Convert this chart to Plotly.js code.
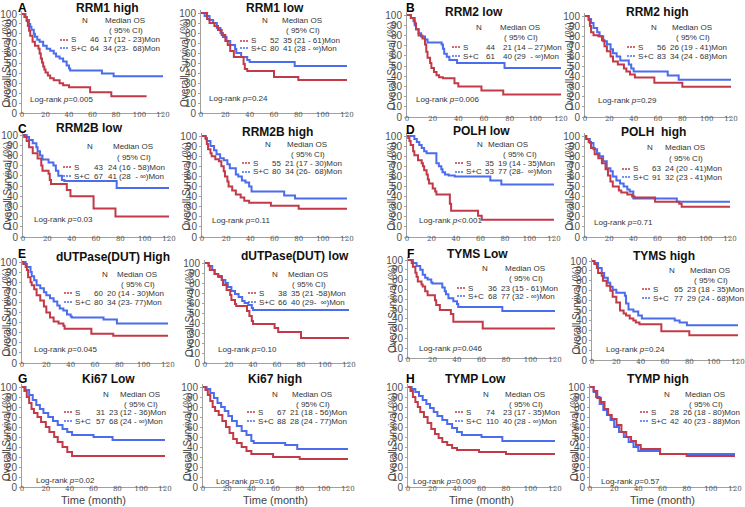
<!DOCTYPE html>
<html><head><meta charset="utf-8">
<script src="https://cdn.plot.ly/plotly-3.0.1.min.js"></script>
<style>html,body{margin:0;padding:0;background:#fff}#chart{width:745px;height:507px}</style>
</head><body><div id="chart"></div>
<script>
// ---------------- DATA ----------------
const titles = ["RRM1 high","RRM1 low","RRM2 low","RRM2 high","RRM2B low","RRM2B high","POLH low","POLH  high",
  "dUTPase(DUT) High","dUTPase(DUT) low","TYMS Low","TYMS high","Ki67 Low","Ki67 high","TYMP Low","TYMP high"];
const nS  = [46,52,44,56,43,55,35,63,60,38,36,65,31,67,74,28];
const nSC = [64,80,61,83,67,80,53,91,80,66,68,77,57,88,110,42];
const medS  = ["17 (12 - 23)Mon","35 (21 - 61)Mon","21 (14 – 27)Mon","26 (19 - 41)Mon","24 (16 - 58)Mon","21 (17 - 30)Mon",
  "19 (14 - 35)Mon","24 (20 - 41)Mon","20 (14 - 30)Mon","35 (21 -58)Mon","23 (15 - 61)Mon","23 (18 - 35)Mon",
  "23 (12 - 36)Mon","21 (18 - 56)Mon","23 (17 - 35)Mon","26 (18 - 80)Mon"];
const medSC = ["34 (23-  68)Mon","41 (28 - ∞)Mon","40 (29  - ∞)Mon","34 (24 - 68)Mon","41 (28  - ∞)Mon","34 (26-  68)Mon",
  "77 (28-  ∞)Mon","32 (23 - 41)Mon","34 (23- 77)Mon","40 (29-  ∞)Mon","77 (32 - ∞)Mon","29 (24 - 68)Mon",
  "68 (24 - ∞)Mon","28 (24 - 77)Mon","40 (28 - ∞)Mon","40 (23 - 88)Mon"];
const pVals = ["=0.005","=0.24","=0.006","=0.29","=0.03","=0.11","<0.001","=0.71","=0.045","=0.10","=0.046","=0.24","=0.02","=0.16","=0.009","=0.57"];
const letters = {0:"A",2:"B",4:"C",6:"D",8:"E",10:"F",12:"G",14:"H"};
const xTicks = [0,20,40,60,80,100,120];
const yTicks = [0,10,20,30,40,50,60,70,80,90,100];

// Survival curves (time in months, survival %)
const rrm1High_S_t  = [0,2,4,5,6,7,9,11,14,15,16,17,18,19,20,22,24,27,32,35,40,58,76,106];
const rrm1High_S_p  = [100,97,93,88,83,78,72,68,65,60,55,51,47,44,41,38,35,33,30,28,26,21,17,17];
const rrm1High_SC_t = [0,3,4,6,7,8,10,11,13,15,18,21,24,27,29,32,35,38,40,41,68,78,120];
const rrm1High_SC_p = [100,97,94,90,87,84,80,77,74,72,68,65,63,60,57,55,52,48,45,43,40,37,37];

const rrm1Low_S_t  = [0,5,7,11,14,17,20,22,24,27,35,36,38,60,80,120];
const rrm1Low_S_p  = [100,94,90,87,83,78,72,68,62,56,49,44,42,36,33,33];
const rrm1Low_SC_t = [0,3,7,10,13,16,18,21,24,28,29,33,38,40,77,120];
const rrm1Low_SC_p = [100,97,93,90,85,80,76,72,68,64,60,56,53,51,47,47];

const rrm2Low_S_t  = [0,3,6,7,9,12,14,15,16,18,19,21,23,25,28,37,40,58,75,120];
const rrm2Low_S_p  = [100,97,92,86,80,77,71,64,58,53,48,44,41,39,38,33,30,26,22,22];
const rrm2Low_SC_t = [0,3,5,6,7,9,11,14,16,27,28,29,31,33,39,76,120];
const rrm2Low_SC_p = [100,97,94,90,86,82,79,76,73,71,67,62,59,56,53,48,48];

const rrm2High_S_t  = [0,3,4,5,7,11,14,16,18,21,23,27,32,34,37,41,57,80,120];
const rrm2High_S_p  = [100,96,90,84,81,80,76,70,65,60,55,52,48,45,42,39,34,30,30];
const rrm2High_SC_t = [0,3,5,7,10,12,15,18,21,23,26,29,36,38,40,68,77,120];
const rrm2High_SC_p = [100,97,93,88,84,80,75,72,67,63,60,56,52,48,45,41,37,37];

const rrm2bLow_S_t  = [0,1,3,5,8,12,15,16,21,22,23,36,39,58,76,120];
const rrm2bLow_S_p  = [100,98,94,88,82,77,70,65,62,56,52,46,40,28,20,20];
const rrm2bLow_SC_t = [0,3,5,8,11,12,14,16,21,25,27,29,32,34,77,120];
const rrm2bLow_SC_p = [100,98,95,92,88,84,80,76,73,70,65,60,56,55,48,48];

const rrm2bHigh_S_t  = [0,3,4,5,7,8,11,14,16,18,19,21,22,25,28,32,35,39,57,80,120];
const rrm2bHigh_S_p  = [100,97,92,87,83,80,77,75,70,65,60,55,50,46,42,39,36,34,31,28,28];
const rrm2bHigh_SC_t = [0,3,4,7,10,12,15,18,21,23,28,30,33,36,39,41,68,77,120];
const rrm2bHigh_SC_p = [100,98,95,90,86,82,78,76,72,68,62,60,56,54,50,45,41,38,38];

const polhLow_S_t  = [0,1,2,3,5,6,9,12,13,14,16,17,18,21,23,24,35,36,58,61,120];
const polhLow_S_p  = [100,98,95,91,85,81,76,73,70,66,62,57,53,48,45,42,33,26,21,17,17];
const polhLow_SC_t = [0,6,8,10,12,14,16,24,26,28,29,31,34,39,68,77,120];
const polhLow_SC_p = [100,97,94,91,88,85,83,73,70,67,64,62,61,60,56,52,52];

const polhHigh_S_t  = [0,1,3,5,8,11,14,17,19,21,23,28,30,35,39,41,58,78,80,120];
const polhHigh_S_p  = [100,97,94,88,82,78,73,67,61,55,50,46,44,42,40,39,35,33,30,30];
const polhHigh_SC_t = [0,1,4,7,10,12,15,18,21,23,26,29,32,35,37,40,76,120];
const polhHigh_SC_p = [100,97,93,87,83,80,75,68,65,60,56,53,50,47,45,38,35,35];

const dutHigh_S_t  = [0,1,3,4,5,7,8,10,12,15,18,20,23,26,30,34,35,57,75,120];
const dutHigh_S_p  = [100,98,95,92,85,80,77,73,67,62,56,50,45,41,39,37,34,29,27,27];
const dutHigh_SC_t = [0,3,4,7,8,10,12,15,18,20,23,26,29,31,34,37,40,41,67,78,120];
const dutHigh_SC_p = [100,98,95,90,86,82,77,74,70,67,64,61,57,54,52,48,46,45,43,39,39];

const dutLow_S_t  = [0,3,4,8,11,14,15,18,21,22,25,26,35,37,39,40,58,61,80,120];
const dutLow_S_p  = [100,97,93,89,87,83,78,73,68,63,59,57,52,47,42,39,35,31,25,25];
const dutLow_SC_t = [0,3,6,8,11,14,17,19,22,25,28,31,33,36,39,40,120];
const dutLow_SC_p = [100,97,93,89,86,83,80,76,72,69,66,62,60,58,55,53,53];

const tymsLow_S_t  = [0,3,4,6,7,8,11,12,14,16,22,23,26,35,37,61,120];
const tymsLow_S_p  = [100,97,93,87,83,78,75,73,68,64,59,54,49,45,37,30,30];
const tymsLow_SC_t = [0,4,7,10,12,14,16,19,20,28,30,31,33,37,40,41,77,120];
const tymsLow_SC_p = [100,97,94,90,85,82,80,77,76,72,68,65,61,58,55,52,48,48];

const tymsHigh_S_t  = [0,2,4,5,8,9,12,15,17,20,23,26,28,31,34,36,39,57,80,120];
const tymsHigh_S_p  = [100,97,93,88,85,80,75,70,64,58,50,47,45,42,40,38,36,29,25,25];
const tymsHigh_SC_t = [0,2,5,8,10,13,15,17,20,27,28,30,34,38,41,68,72,78,120];
const tymsHigh_SC_p = [100,98,93,88,83,78,74,71,68,65,57,51,49,45,42,40,38,35,35];

const ki67Low_S_t  = [0,2,4,6,8,10,13,16,20,23,27,30,34,38,42,120];
const ki67Low_S_p  = [100,96,90,84,78,74,70,65,60,55,50,45,40,35,31,31];
const ki67Low_SC_t = [0,3,6,9,12,15,18,22,26,30,34,38,42,60,76,120];
const ki67Low_SC_p = [100,97,92,87,82,78,74,70,66,62,58,55,52,50,47,47];

const ki67High_S_t  = [0,2,4,6,8,10,13,16,19,22,25,28,32,36,40,58,80,120];
const ki67High_S_p  = [100,97,92,86,80,76,72,66,60,54,48,44,40,36,33,30,28,28];
const ki67High_SC_t = [0,3,6,9,12,15,18,21,24,28,32,36,40,42,68,78,120];
const ki67High_SC_p = [100,98,94,89,84,80,76,71,66,61,56,52,46,44,42,38,38];

const tympLow_S_t  = [0,2,4,6,8,10,13,16,19,22,25,28,32,36,40,58,80,120];
const tympLow_S_p  = [100,96,90,85,80,75,70,64,58,53,49,45,42,39,37,35,33,33];
const tympLow_SC_t = [0,3,6,9,12,15,18,21,24,28,32,36,40,44,60,77,120];
const tympLow_SC_p = [100,98,95,91,87,83,79,75,71,67,63,59,55,52,50,46,46];

const tympHigh_S_t  = [0,3,6,9,12,15,18,22,26,30,34,38,42,58,80,120];
const tympHigh_S_p  = [100,96,89,85,78,72,68,62,55,50,46,42,38,33,31,31];
const tympHigh_SC_t = [0,3,5,8,11,14,17,20,24,28,32,36,40,58,120];
const tympHigh_SC_p = [100,95,90,83,77,72,67,60,55,50,45,40,36,33,33];

const curves = [
  [rrm1High_S_t,rrm1High_S_p,rrm1High_SC_t,rrm1High_SC_p],
  [rrm1Low_S_t,rrm1Low_S_p,rrm1Low_SC_t,rrm1Low_SC_p],
  [rrm2Low_S_t,rrm2Low_S_p,rrm2Low_SC_t,rrm2Low_SC_p],
  [rrm2High_S_t,rrm2High_S_p,rrm2High_SC_t,rrm2High_SC_p],
  [rrm2bLow_S_t,rrm2bLow_S_p,rrm2bLow_SC_t,rrm2bLow_SC_p],
  [rrm2bHigh_S_t,rrm2bHigh_S_p,rrm2bHigh_SC_t,rrm2bHigh_SC_p],
  [polhLow_S_t,polhLow_S_p,polhLow_SC_t,polhLow_SC_p],
  [polhHigh_S_t,polhHigh_S_p,polhHigh_SC_t,polhHigh_SC_p],
  [dutHigh_S_t,dutHigh_S_p,dutHigh_SC_t,dutHigh_SC_p],
  [dutLow_S_t,dutLow_S_p,dutLow_SC_t,dutLow_SC_p],
  [tymsLow_S_t,tymsLow_S_p,tymsLow_SC_t,tymsLow_SC_p],
  [tymsHigh_S_t,tymsHigh_S_p,tymsHigh_SC_t,tymsHigh_SC_p],
  [ki67Low_S_t,ki67Low_S_p,ki67Low_SC_t,ki67Low_SC_p],
  [ki67High_S_t,ki67High_S_p,ki67High_SC_t,ki67High_SC_p],
  [tympLow_S_t,tympLow_S_p,tympLow_SC_t,tympLow_SC_p],
  [tympHigh_S_t,tympHigh_S_p,tympHigh_SC_t,tympHigh_SC_p]
];

// ---------------- LAYOUT GEOMETRY (pixels) ----------------
const W = 745, H = 507;
// [x of t=0, x of t=120, y of 100%, y of 0%]
const GEOM = [
  [22,163,14,113],[201,347,13,113],[407,561,15,117],[585,731,16,117],
  [23,169,135,237],[202,347,136,237],[407,554,136,237],[585,730,136,237],
  [22,168,262,363],[205,349,263,363],[408,555,260,358],[592,738,261,360],
  [22,165,387,487],[203,348,387,487],[408,555,387,487],[590,735,387,487]
];
// legend: [lineX, headerY, N-hdr off, Median-hdr off, N-val left off, median off, red dy, blue dy, CI off]
const LEG = [
  [60,21,25,65,27,42,19,27],[240,21,25,62,28,42,20,27],[452,27,27,68,33,50,20,29],[627,28,27,65,25,39,19,28],
  [63,147,27,70,30,44,20,29],[242,144,26,65,28,42,19,28],[455,144,25,53,26,37,19,28,65],[622,148,28,63,28,40,21,29],
  [64,274,41,73,26,32,19,28],[248,274,27,60,27,42,19,28],[457,268,28,68,30,41,20,28],[642,270,30,68,31,40,19,28],
  [64,394,42,76,31,42,18,27],[247,394,28,65,28,42,18,27],[455,394,31,70,30,44,18,27],[640,394,27,65,27,40,18,27]
];
const LR = [[29,99],[208,98],[415,99],[597,100],[33,219],[211,220],[418,220],[593,222],
  [33,349],[217,349],[418,348],[605,349],[35,480],[215,481],[412,481],[600,481]];
const TP = [[107,8],[275,8],[474,12],[657,12],[89,128],[277,132],[481,131],[653,132],
  [113,257],[295,256],[477,254],[664,256],[108,379],[275,379],[475,379],[658,379]];
const LETTERPOS = {0:[22,8],2:[410,8],4:[22,129],6:[411,130],8:[22,254],10:[410,254],12:[22,379],14:[411,379]};

// fonts: detect a narrow sans for the small legend texts
const cv = document.createElement('canvas').getContext('2d');
function tw(s, size, fam) { cv.font = size + 'px ' + fam; return cv.measureText(s).width; }
const NARROW_STACK = '"Liberation Sans Narrow", "Arial Narrow", "Liberation Sans", Arial, sans-serif';
const REG_STACK = '"Liberation Sans", Arial, sans-serif';
const narrowOK = tw('Median OS 0123', 10, NARROW_STACK) < 0.9 * tw('Median OS 0123', 10, REG_STACK);
const SMALL = narrowOK ? NARROW_STACK : REG_STACK;
const SSIZE = narrowOK ? 9 : 8;

const FONT = REG_STACK;
const SERIF = '"DejaVu Serif", "Liberation Serif", serif';
const RED = '#c23a48', BLUE = '#4a6ced';
const TXT = '#333333';

const PX = x => x / W, PY = y => 1 - y / H;
const data = [];
const layout = {width:W, height:H, margin:{l:0,r:0,t:0,b:0}, showlegend:false,
  paper_bgcolor:'#ffffff', plot_bgcolor:'rgba(0,0,0,0)', annotations:[], shapes:[]};

function txt(x, y, text, o) {
  layout.annotations.push(Object.assign({xref:'paper', yref:'paper', x:PX(x), y:PY(y), text:text,
    showarrow:false, xanchor:'left', yanchor:'middle', borderpad:0, font:{family:SMALL, size:SSIZE, color:TXT}}, o || {}));
}

GEOM.forEach((g, i) => {
  const k = i === 0 ? '' : String(i + 1);
  const [x0, x1, yt, yb] = g;
  const per = (yb - yt) / 100;
  const top = yt - 3 * per;
  layout['xaxis' + k] = {domain:[PX(x0), PX(x1)], range:[0,120], anchor:'y' + k, showline:true, linecolor:'#a0a0a0',
    linewidth:1, ticks:'', tickvals:xTicks, showgrid:false, zeroline:false,
    ticklabelstandoff:-5, tickfont:{family:SERIF, size:7, color:'#555'}, fixedrange:true};
  layout['yaxis' + k] = {domain:[PY(yb), PY(top)], range:[0,103], anchor:'x' + k, showline:true, linecolor:'#a0a0a0',
    linewidth:1, ticks:'outside', ticklen:2, tickcolor:'#a0a0a0', tickvals:yTicks, showgrid:false, zeroline:false,
    tickfont:{family:FONT, size:10, color:'#505050'}, fixedrange:true};
  const c = curves[i];
  data.push({x:c[2], y:c[3], xaxis:'x' + k, yaxis:'y' + k, mode:'lines', line:{shape:'hv', color:BLUE, width:2}, hoverinfo:'skip'});
  data.push({x:c[0], y:c[1], xaxis:'x' + k, yaxis:'y' + k, mode:'lines', line:{shape:'hv', color:RED, width:2}, hoverinfo:'skip'});

  // title
  txt(TP[i][0], TP[i][1], titles[i], {xanchor:'center', font:{family:FONT, size:12, color:'#111', weight:'bold'}});
  // y axis title
  txt(x0 - 16, (yt + yb) / 2, 'Overall Survival (%)', {xanchor:'center', textangle:-90, font:{family:FONT, size:10, color:'#444'}});
  // legend block
  const L = LEG[i];
  const lx = L[0], hy = L[1];
  const ciOff = L[8] !== undefined ? L[8] : L[3] + 1;
  const wSC = tw('S+C', SSIZE, SMALL);
  const wN = Math.max(tw(String(nS[i]), SSIZE, SMALL), tw(String(nSC[i]), SSIZE, SMALL));
  const nvLeft = Math.max(lx + L[4], lx + 10 + wSC + 3);
  const medLeft = Math.max(lx + L[5], nvLeft + wN + 4);
  txt(lx + L[2], hy, 'N', {xanchor:'center'});
  txt(lx + L[3], hy, 'Median OS', {xanchor:'center'});
  txt(lx + ciOff, hy + 10, '( 95% CI)', {xanchor:'center'});
  [[RED, 'S', nS[i], medS[i], L[6]], [BLUE, 'S+C', nSC[i], medSC[i], L[7]]].forEach(r => {
    const ry = hy + r[4];
    layout.shapes.push({type:'line', xref:'paper', yref:'paper', x0:PX(lx), x1:PX(lx + 9), y0:PY(ry), y1:PY(ry),
      line:{color:r[0], width:1.3, dash:'2px,1px'}});
    txt(lx + 10, ry, r[1]);
    txt(nvLeft, ry, String(r[2]));
    txt(medLeft, ry, r[3]);
  });
  // log-rank
  txt(LR[i][0], LR[i][1], 'Log-rank <i>p</i>' + pVals[i]);
  // panel letter
  if (letters[i]) {
    txt(LETTERPOS[i][0], LETTERPOS[i][1], letters[i], {xanchor:'center', font:{family:FONT, size:12, color:'#000', weight:'bold'}});
  }
  // time label on bottom row
  if (i >= 12) {
    txt((x0 + x1) / 2, 500, 'Time (month)', {xanchor:'center', font:{family:FONT, size:11, color:'#444'}});
  }
});

Plotly.newPlot('chart', data, layout, {staticPlot:true, displayModeBar:false});
</script></body></html>
